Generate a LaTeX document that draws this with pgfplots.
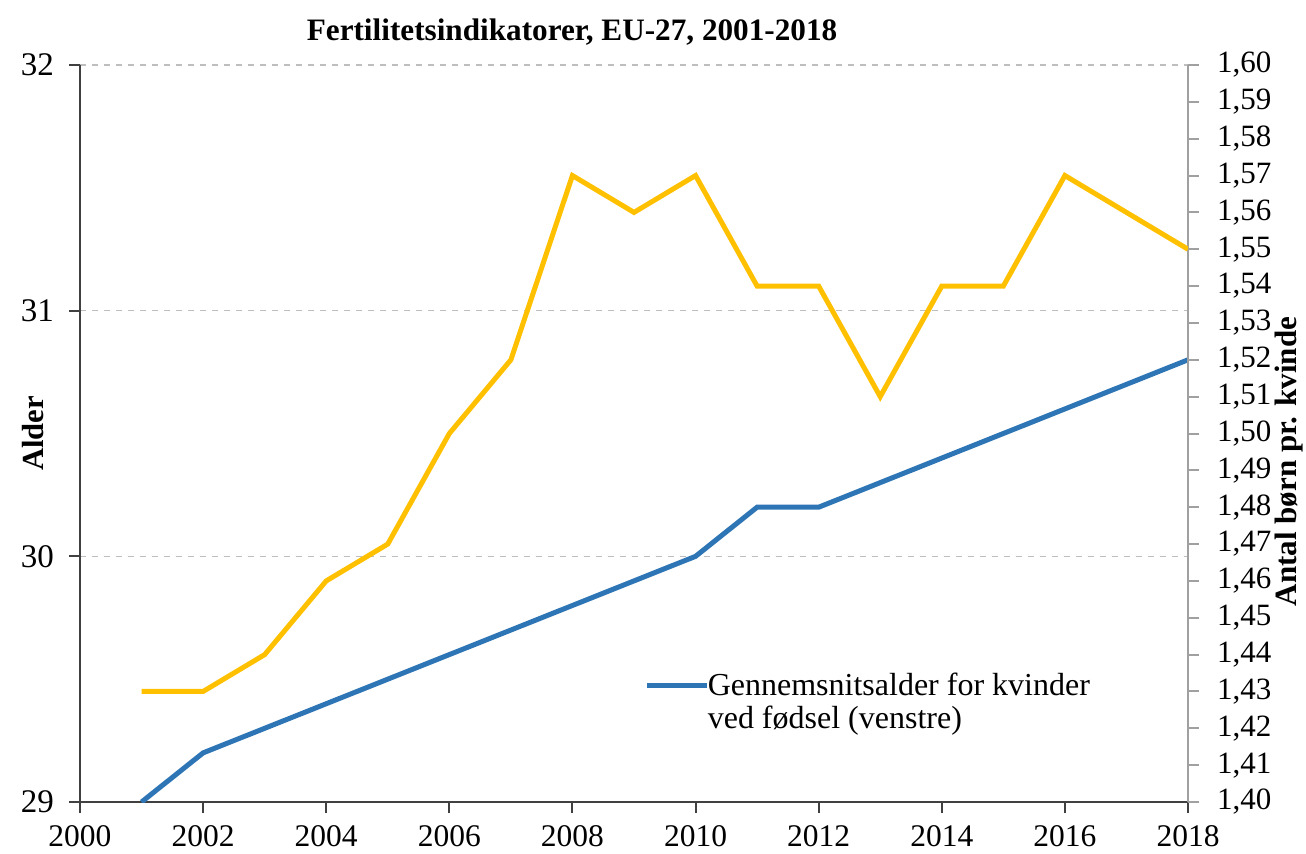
\documentclass[border=0pt]{standalone}
\usepackage{fontspec}
\setmainfont{Liberation Serif}
\usepackage{pgfplots}
\pgfplotsset{compat=1.18}
\definecolor{cblue}{RGB}{46,117,182}
\definecolor{corange}{RGB}{255,192,0}
\definecolor{gridgray}{RGB}{190,190,190}
\definecolor{axgray}{RGB}{160,160,160}
\definecolor{axdark}{RGB}{64,64,64}
\begin{document}
\begin{tikzpicture}
\begin{axis}[name=ax, scale only axis, width=554pt, height=368.5pt,
  xmin=2000, xmax=2018, ymin=29, ymax=32,
  axis y line*=left, axis x line*=bottom,
  xtick={2000,2002,...,2018}, ytick={29,30,31,32},
  tick align=outside, major tick length=5.5pt,
  /pgf/number format/assume math mode=true,
  x tick label style={/pgf/number format/1000 sep={}, font=\fontsize{15.75}{18}\selectfont, yshift=-2.5pt},
  y tick label style={font=\fontsize{16.5}{18}\selectfont, xshift=-4pt},
  ymajorgrids, grid style={gridgray, dashed, line width=0.6pt},
  axis line style={-, line width=1pt, axdark},
  tick style={line width=1pt, axdark},
  legend style={draw=none, fill=none, at={(0.5094,0.136)}, anchor=west, inner sep=0pt,
    font=\fontsize{16}{16.5}\selectfont, nodes={align=left}},
  legend cell align=left,
  legend image code/.code={\draw[#1,overlay] (0pt,8.25pt) -- (30pt,8.25pt); \path (0pt,0pt) (27pt,8.25pt);},
]
\addplot[cblue, line width=2.5pt] coordinates {
(2001,29.0) (2002,29.2) (2003,29.3) (2004,29.4) (2005,29.5) (2006,29.6)
(2007,29.7) (2008,29.8) (2009,29.9) (2010,30.0) (2011,30.2) (2012,30.2)
(2013,30.3) (2014,30.4) (2015,30.5) (2016,30.6) (2017,30.7) (2018,30.8)};
\addlegendentry{Gennemsnitsalder for kvinder\\ved fødsel (venstre)}
\end{axis}
\begin{axis}[scale only axis, width=554pt, height=368.5pt,
  xmin=2000, xmax=2018, ymin=1.40, ymax=1.60,
  axis y line*=right, axis x line=none,
  ytick={1.40,1.41,1.42,1.43,1.44,1.45,1.46,1.47,1.48,1.49,1.50,1.51,1.52,1.53,1.54,1.55,1.56,1.57,1.58,1.59,1.60},
  tick align=outside, major tick length=5.5pt,
  /pgf/number format/assume math mode=true,
  y tick label style={/pgf/number format/fixed, /pgf/number format/precision=2,
    /pgf/number format/zerofill, /pgf/number format/use comma,
    font=\fontsize{15.5}{18}\selectfont, xshift=5.5pt},
  axis line style={-, line width=1pt, axgray},
  tick style={line width=1pt, axgray},
]
\addplot[corange, line width=2.5pt] coordinates {
(2001,1.43) (2002,1.43) (2003,1.44) (2004,1.46) (2005,1.47) (2006,1.50)
(2007,1.52) (2008,1.57) (2009,1.56) (2010,1.57) (2011,1.54) (2012,1.54)
(2013,1.51) (2014,1.54) (2015,1.54) (2016,1.57) (2017,1.56) (2018,1.55)};
\end{axis}
\node[font=\bfseries\fontsize{15.6}{18}\selectfont] at ([shift={(246pt,16.5pt)}]ax.north west) {Fertilitetsindikatorer, EU-27, 2001-2018};
\node[rotate=90, font=\bfseries\fontsize{15.3}{18}\selectfont] at ([shift={(-23.5pt,0pt)}]ax.west) {Alder};
\node[rotate=90, font=\bfseries\fontsize{15.5}{18}\selectfont] at ([shift={(50.5pt,-14pt)}]ax.east) {Antal børn pr. kvinde};
\pgfresetboundingbox
\path[use as bounding box] ([shift={(-40pt,-25.5pt)}]ax.south west) rectangle ([shift={(59pt,32.5pt)}]ax.north east);
\end{tikzpicture}
\end{document}
